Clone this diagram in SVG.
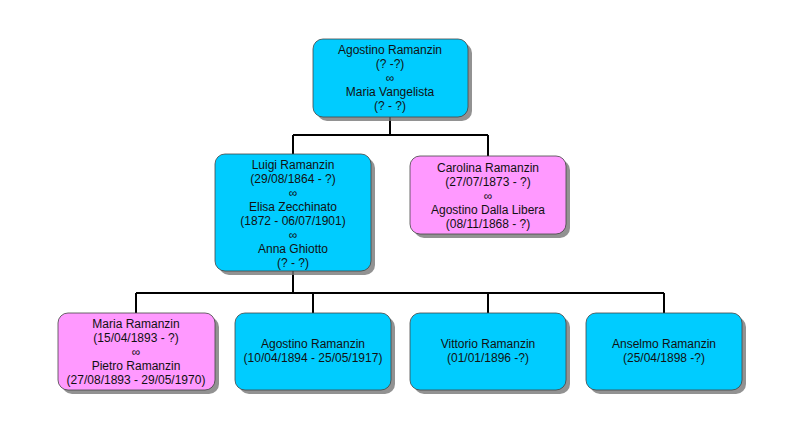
<svg xmlns="http://www.w3.org/2000/svg" width="800" height="429" viewBox="0 0 800 429">
<defs>
<style>
.b{fill:#00ccff;stroke:#444;stroke-width:0.8}
.p{fill:#ff99ff;stroke:#444;stroke-width:0.8}
.s{fill:#777;opacity:0.8}
text{font-family:"Liberation Sans",Arial,sans-serif;font-size:12px;fill:#111;text-anchor:middle}
.c{stroke:#000;stroke-width:2;fill:none}
</style>
</defs>
<rect width="800" height="429" fill="#fff"/>
<g id="connectors">
<path class="c" d="M390 117V135M293 135H488M293 135V154M488 135V156"/>
<path class="c" d="M293 271V293M136 293H664M136 293V313M313 293V313M488 293V313M664 293V313"/>
</g>
<g id="n1"><rect class="s" x="317" y="43" width="155" height="78" rx="10"/><rect class="b" x="313" y="39" width="155" height="78" rx="10"/>
<text x="390" y="54">Agostino Ramanzin</text><text x="390" y="68">(? -?)</text><text x="390" y="82">∞</text><text x="390" y="96">Maria Vangelista</text><text x="390" y="110">(? - ?)</text></g>
<g id="n2"><rect class="s" x="219" y="158" width="156" height="117" rx="10"/><rect class="b" x="215" y="154" width="156" height="117" rx="10"/>
<text x="293" y="169">Luigi Ramanzin</text><text x="293" y="183">(29/08/1864 - ?)</text><text x="293" y="197">∞</text><text x="293" y="211">Elisa Zecchinato</text><text x="293" y="225">(1872 - 06/07/1901)</text><text x="293" y="239">∞</text><text x="293" y="253">Anna Ghiotto</text><text x="293" y="267">(? - ?)</text></g>
<g id="n3"><rect class="s" x="414" y="160" width="156" height="78" rx="10"/><rect class="p" x="410" y="156" width="156" height="78" rx="10"/>
<text x="488" y="172">Carolina Ramanzin</text><text x="488" y="186">(27/07/1873 - ?)</text><text x="488" y="200">∞</text><text x="488" y="214">Agostino Dalla Libera</text><text x="488" y="228">(08/11/1868 - ?)</text></g>
<g id="n4"><rect class="s" x="62" y="317" width="157" height="77" rx="10"/><rect class="p" x="58" y="313" width="157" height="77" rx="10"/>
<text x="136" y="328">Maria Ramanzin</text><text x="136" y="342">(15/04/1893 - ?)</text><text x="136" y="356">∞</text><text x="136" y="370">Pietro Ramanzin</text><text x="136" y="384">(27/08/1893 - 29/05/1970)</text></g>
<g id="n5"><rect class="s" x="239" y="317" width="156" height="77" rx="10"/><rect class="b" x="235" y="313" width="156" height="77" rx="10"/>
<text x="313" y="348">Agostino Ramanzin</text><text x="313" y="362">(10/04/1894 - 25/05/1917)</text></g>
<g id="n6"><rect class="s" x="414" y="317" width="156" height="77" rx="10"/><rect class="b" x="410" y="313" width="156" height="77" rx="10"/>
<text x="488" y="348">Vittorio Ramanzin</text><text x="488" y="362">(01/01/1896 -?)</text></g>
<g id="n7"><rect class="s" x="590" y="317" width="156" height="77" rx="10"/><rect class="b" x="586" y="313" width="156" height="77" rx="10"/>
<text x="664" y="348">Anselmo Ramanzin</text><text x="664" y="362">(25/04/1898 -?)</text></g>
</svg>
